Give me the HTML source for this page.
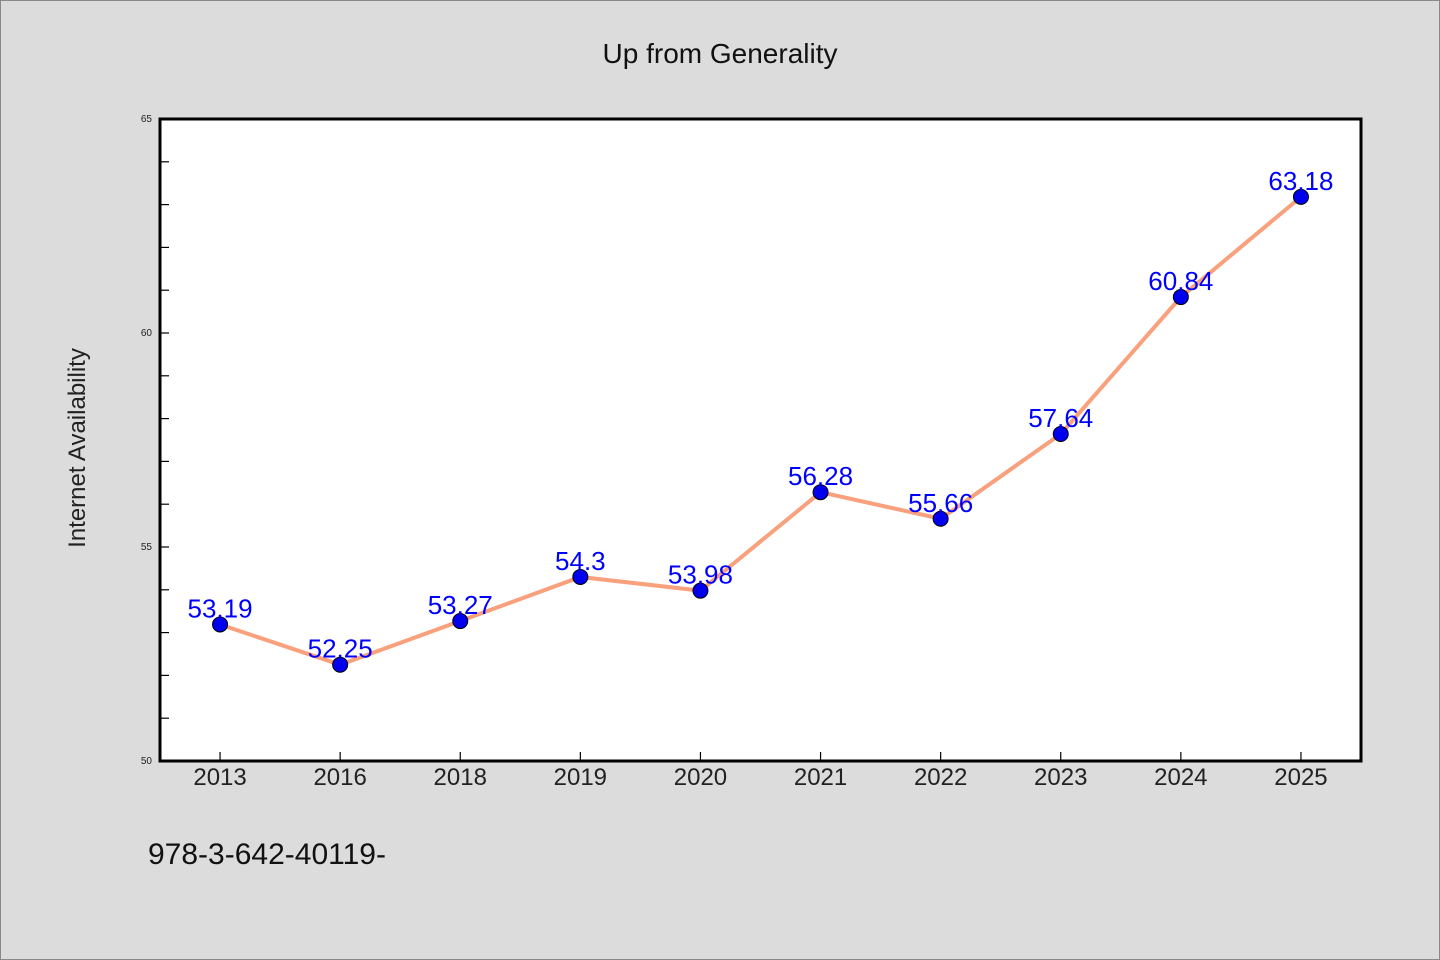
<!DOCTYPE html>
<html><head><meta charset="utf-8"><style>
body{margin:0;background:#dcdcdc}
svg{display:block;font-family:"WenQuanYi Zen Hei","Liberation Sans",sans-serif}
</style></head><body>
<svg width="1440" height="960">
<rect x="0.5" y="0.5" width="1439" height="959" fill="#dcdcdc" stroke="#888"/>
<text x="720" y="63" text-anchor="middle" font-size="28" fill="#111">Up from Generality</text>
<rect x="160" y="119" width="1201" height="642" fill="#fff"/>
<g id="axes"></g>
<g id="marks"></g>
<rect x="160" y="119" width="1201" height="642" fill="none" stroke="#000" stroke-width="3"/>
<text transform="translate(85,448) rotate(-90)" text-anchor="middle" font-size="24" fill="#222">Internet Availability</text>
<text x="148" y="864" font-size="30" fill="#111">978-3-642-40119-</text>
</svg>
<script>
const categories=["2013","2016","2018","2019","2020","2021","2022","2023","2024","2025"];
const values=[53.19,52.25,53.27,54.3,53.98,56.28,55.66,57.64,60.84,63.18];
const valueLabels=["53.19","52.25","53.27","54.3","53.98","56.28","55.66","57.64","60.84","63.18"];
const yTicks=[50,55,60,65];
const NS="http://www.w3.org/2000/svg";
const L=160,R=1361,T=119,B=761,yMin=50,yMax=65;
const step=(R-L)/categories.length;
function x(i){return L+step*(i+0.5);}
function y(v){return B-(v-yMin)/(yMax-yMin)*(B-T);}
function mk(tag,attrs,parent){const e=document.createElementNS(NS,tag);for(const k in attrs)e.setAttribute(k,attrs[k]);parent.appendChild(e);return e;}
const axes=document.getElementById('axes'),marks=document.getElementById('marks');
for(let v=yMin+1;v<yMax;v++){
 const t=mk('line',{x1:L,x2:L+9,y1:y(v),y2:y(v),stroke:'#000','stroke-width':1.2},axes);
 
 
}
yTicks.forEach(v=>{
 const t=mk('text',{x:L-8,y:y(v)+3,'text-anchor':'end','font-size':10,fill:'#222'},axes);
 t.textContent=v;
 
 
});
categories.forEach((c,i)=>{
 const tk=mk('line',{x1:x(i),x2:x(i),y1:B,y2:B-9,stroke:'#000','stroke-width':1.2},axes);
 
 
 const t=mk('text',{x:x(i),y:B+24,'text-anchor':'middle','font-size':24,fill:'#222'},axes);
 t.textContent=c;
 
 
});
const line=mk('polyline',{points:values.map((v,i)=>x(i)+','+y(v)).join(' '),fill:'none',stroke:'#f9a07c','stroke-width':4},marks);


values.forEach((v,i)=>{
 const c=mk('circle',{cx:x(i),cy:y(v),r:7.5,fill:'#0000ee',stroke:'#000','stroke-width':1},marks);
 
 
 const t=mk('text',{x:x(i),y:y(v)-7,'text-anchor':'middle','font-size':26,fill:'#0000ff'},marks);
 t.textContent=valueLabels[i];
 
 
});
</script>
</body></html>
